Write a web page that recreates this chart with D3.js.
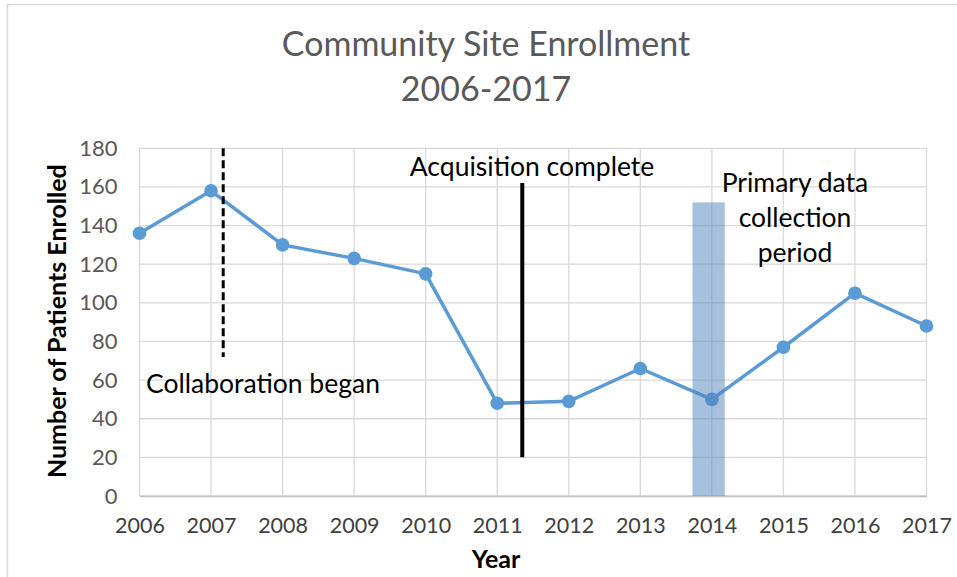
<!DOCTYPE html>
<html>
<head>
<meta charset="utf-8">
<script src="https://cdn.jsdelivr.net/npm/d3@7"></script>
<style>
  body { margin: 0; background: #fff; }
  text { font-family: Lato, "Liberation Sans", sans-serif; }
</style>
</head>
<body>
<div id="main"></div>
<script>
// data
const years = [2006, 2007, 2008, 2009, 2010, 2011, 2012, 2013, 2014, 2015, 2016, 2017];
const enrolled = [136, 158, 130, 123, 115, 48, 49, 66, 50, 77, 105, 88];
const yTicks = [0, 20, 40, 60, 80, 100, 120, 140, 160, 180];
const titleLines = ["Community Site Enrollment", "2006-2017"];

// annotation marks in data units
const collabLine = { x: 2007.17, y0: 72, y1: 180 };
const acqLine = { x: 2011.35, y0: 20, y1: 162 };
const collectBand = { x0: 2013.73, x1: 2014.18, top: 152 };
const collectLines = ["Primary data", "collection", "period"];

const ctx = {
    w: 957,
    h: 577,
    left: 139.5,
    right: 926.5,
    top: 148.3,
    bottom: 496,
    grid: "#d9d9d9",
    lineColor: "#5b9bd5",
};

function createViz(){
    const svg = d3.select("#main").append("svg")
        .attr("width", ctx.w)
        .attr("height", ctx.h);

    // chart frame
    svg.append("rect")
        .attr("x", 7.5).attr("y", 4.5)
        .attr("width", ctx.w).attr("height", ctx.h)
        .attr("fill", "#fff")
        .attr("stroke", ctx.grid).attr("stroke-width", 1.5);

    const x = d3.scaleLinear().domain([2006, 2017]).range([ctx.left, ctx.right]);
    const y = d3.scaleLinear().domain([0, 180]).range([ctx.bottom, ctx.top]);

    // grid
    const grid = svg.append("g").attr("id", "grid");
    grid.selectAll("line.h")
        .data(yTicks)
        .enter().append("line")
        .attr("class", "h")
        .attr("x1", ctx.left).attr("x2", ctx.right)
        .attr("y1", d => y(d)).attr("y2", d => y(d))
        .attr("stroke", ctx.grid).attr("stroke-width", 1.3);
    grid.selectAll("line.v")
        .data(years)
        .enter().append("line")
        .attr("class", "v")
        .attr("x1", d => x(d)).attr("x2", d => x(d))
        .attr("y1", ctx.top).attr("y2", ctx.bottom)
        .attr("stroke", ctx.grid).attr("stroke-width", 1.3);

    // x axis
    const xAxis = svg.append("g")
        .attr("transform", `translate(0,${ctx.bottom})`)
        .call(d3.axisBottom(x).tickValues(years).tickFormat(d3.format("d")).tickSize(0).tickPadding(22));
    xAxis.select(".domain").attr("stroke", "#bfbfbf").attr("stroke-width", 1.5);
    xAxis.selectAll("text")
        .attr("fill", "#404040").style("font-size", "21.5px").style("font-family", "Lato, sans-serif");

    // y axis
    const yAxis = svg.append("g")
        .attr("transform", `translate(${ctx.left},0)`)
        .call(d3.axisLeft(y).tickValues(yTicks).tickSize(0).tickPadding(22));
    yAxis.select(".domain").remove();
    yAxis.selectAll("text")
        .attr("fill", "#595959").style("font-size", "22px").style("font-family", "Lato, sans-serif");

    // axis titles
    svg.append("text")
        .attr("x", 496).attr("y", 568)
        .attr("text-anchor", "middle")
        .style("font-size", "25px").style("font-weight", "bold")
        .text("Year");
    svg.append("text")
        .attr("transform", `translate(66,${(ctx.top + ctx.bottom) / 2 - 1}) rotate(-90)`)
        .attr("text-anchor", "middle")
        .style("font-size", "25px").style("font-weight", "bold")
        .text("Number of Patients Enrolled");

    // title
    svg.append("g").selectAll("text")
        .data(titleLines)
        .enter().append("text")
        .attr("x", 486).attr("y", (d, i) => 56 + i * 45)
        .attr("text-anchor", "middle")
        .attr("fill", "#595959")
        .style("font-size", "34px")
        .text(d => d);

    // series
    const pts = years.map((yr, i) => [yr, enrolled[i]]);
    svg.append("path")
        .datum(pts)
        .attr("fill", "none")
        .attr("stroke", ctx.lineColor).attr("stroke-width", 3.5)
        .attr("stroke-linejoin", "round")
        .attr("d", d3.line().x(d => x(d[0])).y(d => y(d[1])));
    svg.append("g").selectAll("circle")
        .data(pts)
        .enter().append("circle")
        .attr("cx", d => x(d[0])).attr("cy", d => y(d[1]))
        .attr("r", 6.8)
        .attr("fill", ctx.lineColor);

    // annotations
    svg.append("line")
        .attr("x1", x(collabLine.x)).attr("x2", x(collabLine.x))
        .attr("y1", y(collabLine.y1)).attr("y2", y(collabLine.y0))
        .attr("stroke", "#000").attr("stroke-width", 3)
        .attr("stroke-dasharray", "8,4");
    svg.append("line")
        .attr("x1", x(acqLine.x)).attr("x2", x(acqLine.x))
        .attr("y1", y(acqLine.y1)).attr("y2", y(acqLine.y0))
        .attr("stroke", "#000").attr("stroke-width", 4);
    svg.append("rect")
        .attr("x", x(collectBand.x0)).attr("y", y(collectBand.top))
        .attr("width", x(collectBand.x1) - x(collectBand.x0))
        .attr("height", y(0) - y(collectBand.top))
        .attr("fill", "#4f81bd").attr("fill-opacity", 0.5);

    svg.append("text")
        .attr("x", 146).attr("y", 393)
        .style("font-size", "26.5px")
        .text("Collaboration began");
    svg.append("text")
        .attr("x", 532).attr("y", 176)
        .attr("text-anchor", "middle")
        .style("font-size", "26.5px")
        .text("Acquisition complete");
    svg.append("g").selectAll("text")
        .data(collectLines)
        .enter().append("text")
        .attr("x", 795).attr("y", (d, i) => 192 + i * 35)
        .attr("text-anchor", "middle")
        .style("font-size", "26.5px")
        .text(d => d);
}

createViz();
</script>
</body>
</html>
